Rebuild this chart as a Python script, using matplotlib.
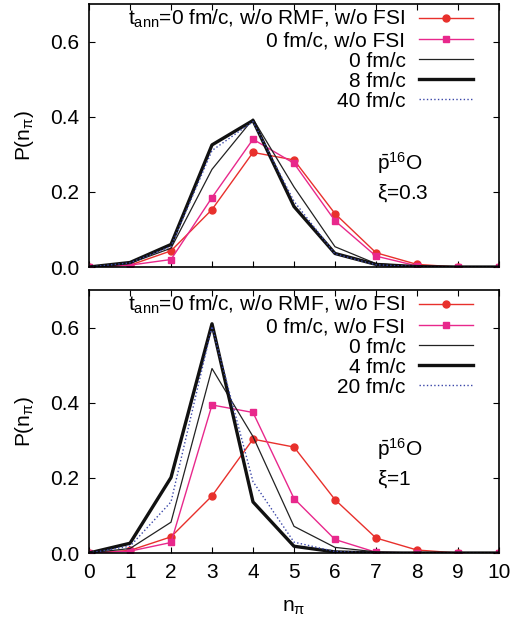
import matplotlib
matplotlib.use("Agg")
import matplotlib.pyplot as plt
import numpy as np

plt.rcParams['font.family'] = ['Liberation Sans', 'DejaVu Sans']
plt.rcParams['mathtext.fontset'] = 'custom'
plt.rcParams['mathtext.rm'] = 'Liberation Sans'
plt.rcParams['mathtext.it'] = 'Liberation Sans'
plt.rcParams['mathtext.sf'] = 'Liberation Sans'

n_pi = list(range(11))
x_ticks = list(range(11))
y_ticks = [0.0, 0.2, 0.4, 0.6]

# Top panel (xi = 0.3)
top_norm_nofsi = [0.0, 0.005, 0.043, 0.153, 0.305, 0.285, 0.142, 0.038, 0.007, 0.0, 0.0]
top_nofsi = [0.0, 0.005, 0.020, 0.185, 0.340, 0.276, 0.123, 0.029, 0.003, 0.0, 0.0]
top_0 = [0.0, 0.010, 0.050, 0.260, 0.394, 0.213, 0.054, 0.009, 0.001, 0.0, 0.0]
top_8 = [0.0, 0.012, 0.060, 0.325, 0.390, 0.161, 0.036, 0.007, 0.001, 0.0, 0.0]
top_40 = [0.0, 0.011, 0.055, 0.310, 0.387, 0.175, 0.035, 0.006, 0.001, 0.0, 0.0]

# Bottom panel (xi = 1)
bot_norm_nofsi = [0.0, 0.007, 0.043, 0.152, 0.303, 0.282, 0.142, 0.040, 0.008, 0.0, 0.0]
bot_nofsi = [0.0, 0.005, 0.028, 0.394, 0.374, 0.145, 0.036, 0.002, 0.0, 0.0, 0.0]
bot_0 = [0.0, 0.012, 0.082, 0.491, 0.310, 0.071, 0.015, 0.003, 0.0, 0.0, 0.0]
bot_4 = [0.0, 0.026, 0.201, 0.610, 0.136, 0.018, 0.003, 0.0, 0.0, 0.0, 0.0]
bot_20 = [0.0, 0.018, 0.136, 0.603, 0.190, 0.029, 0.004, 0.0, 0.0, 0.0, 0.0]

labels_top = [r"t$_{\mathrm{ann}}$=0 fm/c, w/o RMF, w/o FSI", "0 fm/c, w/o FSI",
              "0 fm/c", "8 fm/c", "40 fm/c"]
labels_bot = [r"t$_{\mathrm{ann}}$=0 fm/c, w/o RMF, w/o FSI", "0 fm/c, w/o FSI",
              "0 fm/c", "4 fm/c", "20 fm/c"]
xi_top = r"$\xi$=0.3"
xi_bot = r"$\xi$=1"

RED = '#e8302c'
MAG = '#e8288c'
BLUE = '#3a46a8'
FS = 15

fig = plt.figure(figsize=(5.13, 6.22), dpi=100)
ax1 = fig.add_axes([0.1735, 0.5707, 0.7992, 0.4229])
ax2 = fig.add_axes([0.1735, 0.1109, 0.7992, 0.4229])

def draw(ax, s1, s2, s3, s4, s5, labels, xi, show_x):
    ax.plot(n_pi, s1, '-', color=RED, lw=1.0, marker='o', ms=5, label=labels[0])
    ax.plot(n_pi, s2, '-', color=MAG, lw=1.0, marker='s', ms=5, label=labels[1])
    ax.plot(n_pi, s3, '-', color='#222222', lw=0.9, label=labels[2])
    ax.plot(n_pi, s4, '-', color='#111111', lw=2.4, label=labels[3])
    ax.plot(n_pi, s5, ':', color=BLUE, lw=1.0, label=labels[4])
    ax.set_xlim(0, 10)
    ax.set_ylim(0, 0.7)
    ax.set_xticks(x_ticks)
    ax.set_yticks(y_ticks)
    ax.set_yticklabels([f"{v:.1f}" for v in y_ticks])
    if not show_x:
        ax.set_xticklabels([])
    ax.tick_params(direction='in', top=True, right=True, length=4, width=0.8,
                   labelsize=FS, pad=7)
    for sp in ax.spines.values():
        sp.set_linewidth(1.2)
    ax.set_ylabel(r"P(n$_{\pi}$)", fontsize=FS, labelpad=10)
    leg = ax.legend(loc='upper right', bbox_to_anchor=(0.947, 1.0),
                    markerfirst=False, frameon=False, fontsize=FS,
                    handlelength=2.6, handletextpad=0.65, labelspacing=0.05,
                    borderaxespad=0.0, borderpad=0.2)
    for t in leg.get_texts():
        t.set_ha('right')
    leg._legend_box.align = 'right'
    ax.text(7.02, 0.278, r"$\bar{\mathrm{p}}^{16}$O", fontsize=FS, va='center', ha='left')
    ax.text(7.02, 0.196, xi, fontsize=FS, va='center', ha='left')

draw(ax1, top_norm_nofsi, top_nofsi, top_0, top_8, top_40, labels_top, xi_top, False)
draw(ax2, bot_norm_nofsi, bot_nofsi, bot_0, bot_4, bot_20, labels_bot, xi_bot, True)
ax2.set_xlabel(r"n$_{\pi}$", fontsize=FS, labelpad=12)

fig.savefig("out.png", dpi=100)
